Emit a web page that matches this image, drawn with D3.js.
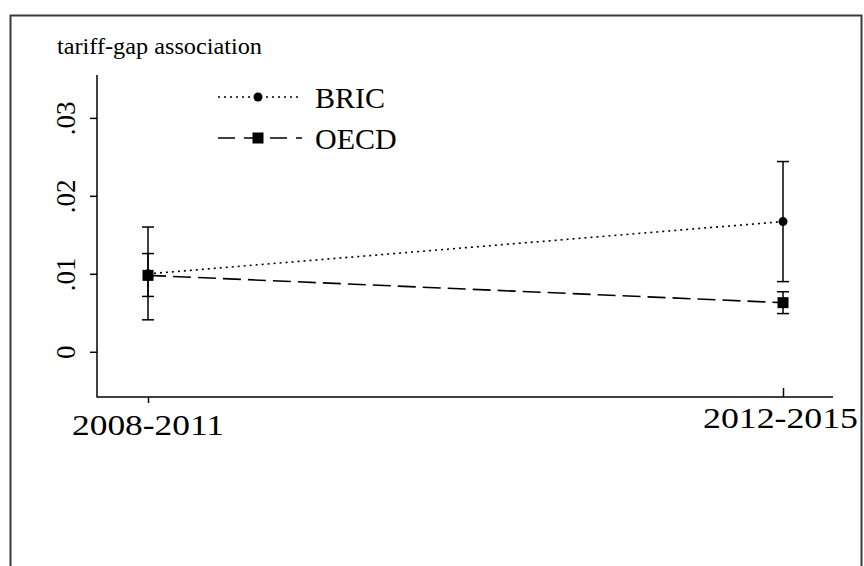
<!DOCTYPE html>
<html>
<head>
<meta charset="utf-8">
<script src="https://cdn.jsdelivr.net/npm/d3@7"></script>
<style>
  html, body { margin: 0; padding: 0; background: #fff; }
  svg { display: block; }
  svg text { font-family: "Liberation Serif", "Noto Serif", "FreeSerif", Tinos, "Nimbus Roman", "Times New Roman", Times, "DejaVu Serif", serif !important; fill: #000; }
</style>
</head>
<body>
<svg id="chart" width="864" height="566"></svg>
<script>
// Periods and estimated tariff-gap association with 95% bounds
const categories = ["2008-2011", "2012-2015"];
const bricEst = [0.0100, 0.0167];
const bricLo  = [0.0041, 0.0090];
const bricHi  = [0.0160, 0.0244];
const oecdEst = [0.0098, 0.0063];
const oecdLo  = [0.0071, 0.0049];
const oecdHi  = [0.0126, 0.0077];
const yTicks  = [0, 0.01, 0.02, 0.03];
const yTickLabels = ["0", ".01", ".02", ".03"];
const seriesNames = ["BRIC", "OECD"];

const serif = '"Liberation Serif", "Noto Serif", FreeSerif, Tinos, "Nimbus Roman", "Times New Roman", Times, "DejaVu Serif", serif';
const svg = d3.select("#chart").attr("font-family", serif);

// outer frame
svg.append("rect")
  .attr("x", 10.5).attr("y", 15.5)
  .attr("width", 851).attr("height", 620)
  .attr("fill", "none").attr("stroke", "#3a3a3a").attr("stroke-width", 2);

const x = d3.scalePoint().domain(categories).range([148, 783]);
const y = d3.scaleLinear().domain([-0.0058, 0.0355]).range([397, 75]);

const axisLeftX = 97, axisRightX = 833, axisBottomY = 397;

// axis lines
svg.append("line")
  .attr("x1", axisLeftX).attr("x2", axisLeftX)
  .attr("y1", y.range()[1]).attr("y2", axisBottomY + 0.5)
  .attr("stroke", "#000").attr("stroke-width", 1.5);
svg.append("line")
  .attr("x1", axisLeftX).attr("x2", axisRightX)
  .attr("y1", axisBottomY).attr("y2", axisBottomY)
  .attr("stroke", "#000").attr("stroke-width", 1.5);

// y axis ticks with rotated labels
const yAxis = d3.axisLeft(y).tickValues(yTicks).tickSize(7)
  .tickFormat((d, i) => yTickLabels[i]);
const yG = svg.append("g").attr("transform", `translate(${axisLeftX},0)`).call(yAxis)
  .attr("font-family", serif);
yG.select(".domain").remove();
yG.selectAll(".tick line").attr("stroke", "#000").attr("stroke-width", 1.5);
yG.selectAll(".tick text")
  .attr("x", 0).attr("dy", 0)
  .attr("transform", "translate(-22,0) rotate(-90)")
  .attr("text-anchor", "middle")
  .style("font-size", "27px").attr("fill", "#000");

// x axis ticks
const xAxis = d3.axisBottom(x).tickSize(6).tickFormat("");
const xG = svg.append("g").attr("transform", `translate(0,${axisBottomY})`).call(xAxis);
xG.select(".domain").remove();
xG.selectAll(".tick line").attr("stroke", "#000").attr("stroke-width", 1.5)
  .attr("y2", (d, i) => i === 0 ? 6 : -9);

// x category labels
const xLabelPos = [{ x0: 72, x1: 224, base: 435 }, { x0: 703, x1: 858, base: 428 }];
svg.selectAll(".xlab").data(categories).join("text")
  .attr("class", "xlab")
  .attr("x", (d, i) => xLabelPos[i].x0)
  .attr("y", (d, i) => xLabelPos[i].base)
  .attr("textLength", (d, i) => xLabelPos[i].x1 - xLabelPos[i].x0)
  .attr("lengthAdjust", "spacingAndGlyphs")
  .style("font-size", "30px")
  .text(d => d);

// title
svg.append("text")
  .attr("x", 57).attr("y", 54)
  .attr("textLength", 205).attr("lengthAdjust", "spacingAndGlyphs")
  .style("font-size", "24px")
  .text("tariff-gap association");

// series lines
const line = d3.line().x((d, i) => x(categories[i])).y(d => y(d));
svg.append("path").datum(bricEst)
  .attr("d", line).attr("fill", "none")
  .attr("stroke", "#000").attr("stroke-width", 1.6)
  .attr("stroke-dasharray", "2,4");
svg.append("path").datum(oecdEst)
  .attr("d", line).attr("fill", "none")
  .attr("stroke", "#000").attr("stroke-width", 1.6)
  .attr("stroke-dasharray", "18,7");

// error bars
function errorBars(lo, hi) {
  const g = svg.append("g").attr("stroke", "#000").attr("stroke-width", 1.5);
  categories.forEach((c, i) => {
    const cx = x(c);
    g.append("line").attr("x1", cx).attr("x2", cx).attr("y1", y(lo[i])).attr("y2", y(hi[i]));
    [lo[i], hi[i]].forEach(v => {
      g.append("line").attr("x1", cx - 6).attr("x2", cx + 6).attr("y1", y(v)).attr("y2", y(v));
    });
  });
}
errorBars(bricLo, bricHi);
errorBars(oecdLo, oecdHi);

// markers
svg.selectAll(".bricpt").data(bricEst).join("circle")
  .attr("class", "bricpt")
  .attr("cx", (d, i) => x(categories[i])).attr("cy", d => y(d))
  .attr("r", 4.5).attr("fill", "#000");
svg.selectAll(".oecdpt").data(oecdEst).join("rect")
  .attr("class", "oecdpt")
  .attr("x", (d, i) => x(categories[i]) - 5.5).attr("y", d => y(d) - 5.5)
  .attr("width", 11).attr("height", 11).attr("fill", "#000");

// legend
const legend = svg.append("g");
const legY = [97, 138];
legend.append("line").attr("x1", 218).attr("x2", 298).attr("y1", legY[0]).attr("y2", legY[0])
  .attr("stroke", "#000").attr("stroke-width", 1.6).attr("stroke-dasharray", "2,4");
legend.append("circle").attr("cx", 258).attr("cy", legY[0]).attr("r", 4.5).attr("fill", "#000");
legend.append("line").attr("x1", 218).attr("x2", 302).attr("y1", legY[1]).attr("y2", legY[1])
  .attr("stroke", "#000").attr("stroke-width", 1.6).attr("stroke-dasharray", "17,9");
legend.append("rect").attr("x", 252.5).attr("y", legY[1] - 5.5).attr("width", 11).attr("height", 11).attr("fill", "#000");
legend.selectAll(".legtxt").data(seriesNames).join("text")
  .attr("class", "legtxt")
  .attr("x", 315).attr("y", (d, i) => legY[i] + 11)
  .style("font-size", "30px")
  .text(d => d);
</script>
</body>
</html>
